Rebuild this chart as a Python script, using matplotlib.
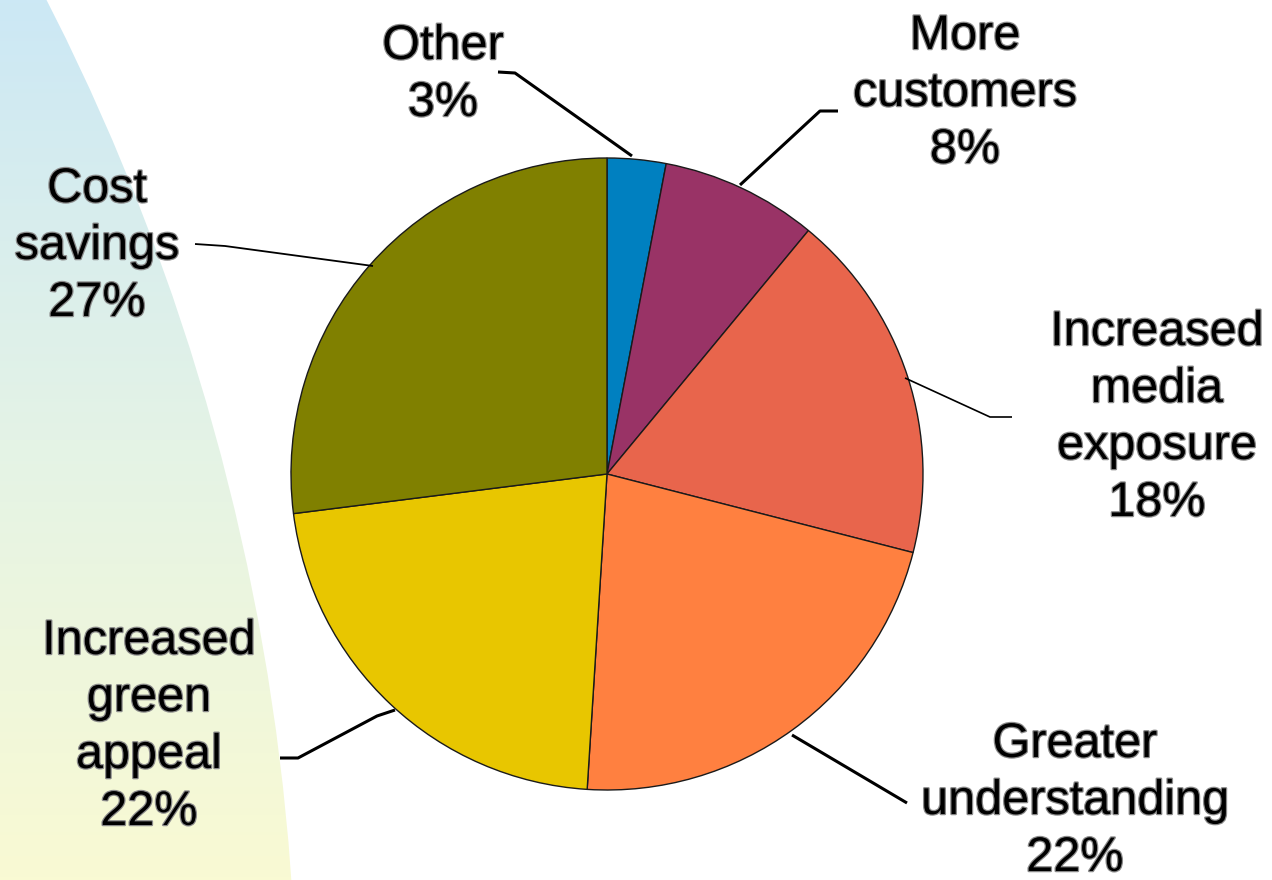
import numpy as np
import matplotlib
matplotlib.use("Agg")
import matplotlib.pyplot as plt
from matplotlib.patches import Circle
from matplotlib.colors import LinearSegmentedColormap
import matplotlib.patheffects as pe

W, H = 1272, 880

# slice data, clockwise from 12 o'clock
categories = ["Other", "More\ncustomers", "Increased\nmedia\nexposure",
              "Greater\nunderstanding", "Increased\ngreen\nappeal", "Cost\nsavings"]
shares = [3, 8, 18, 22, 22, 27]
colors = ["#0080C0", "#993366", "#E8654C", "#FF8040", "#E8C600", "#808000"]

# label anchor (x, y of first line) in pixel coords, y measured from the top
label_pos = [(443, 42), (965, 32), (1157, 328), (1075, 740), (149, 637), (97, 185)]
# leader line polylines, image pixel coords (from label end to the slice)
leaders = [
    [(498, 72), (515, 73), (632, 156)],
    [(838, 111), (820, 111), (740, 185)],
    [(1012, 417), (990, 417), (905, 378)],
    [(907, 803), (792, 735)],
    [(280, 758), (298, 758), (377, 716), (395, 710)],
    [(195, 244), (225, 246), (373, 266)],
]
leader_lw = [2.2, 2.2, 1.2, 2.2, 2.2, 1.3]

fig = plt.figure(figsize=(W / 100, H / 100), dpi=100)
ax = fig.add_axes([0, 0, 1, 1])

# soft blue-to-yellow band on the left, cut by a large arc
grad = np.linspace(0, 1, 256).reshape(-1, 1)
cmap = LinearSegmentedColormap.from_list("bg", ["#CCE8F5", "#E4F3E6", "#F9FAD3"])
img = ax.imshow(grad, extent=[0, W, 0, H], origin="upper", cmap=cmap,
                aspect="auto", zorder=0)
arc = Circle((-1988, H - 1040), 2285, transform=ax.transData)
img.set_clip_path(arc)

wedges, _ = ax.pie(shares, colors=colors, startangle=90, counterclock=False,
                   center=(607, H - 474), radius=316, frame=True,
                   wedgeprops=dict(edgecolor="#1a1a1a", linewidth=1.0))
ax.set_xlim(0, W)
ax.set_ylim(0, H)
ax.set_aspect("equal")
ax.axis("off")

for pts, lw in zip(leaders, leader_lw):
    xs = [p[0] for p in pts]
    ys = [H - p[1] for p in pts]
    ax.plot(xs, ys, color="black", lw=lw, solid_capstyle="butt", zorder=3)

halo = [pe.withStroke(linewidth=1.8, foreground="#8a8a8a")]
step = 57
for name, share, (x, y0) in zip(categories, shares, label_pos):
    lines = name.split("\n") + [f"{share}%"]
    for i, line in enumerate(lines):
        ax.text(x, H - (y0 + i * step + 17), line, ha="center", va="baseline",
                fontsize=35, family="Liberation Sans", color="black",
                path_effects=halo, zorder=4)

fig.savefig("out.png", dpi=100)
